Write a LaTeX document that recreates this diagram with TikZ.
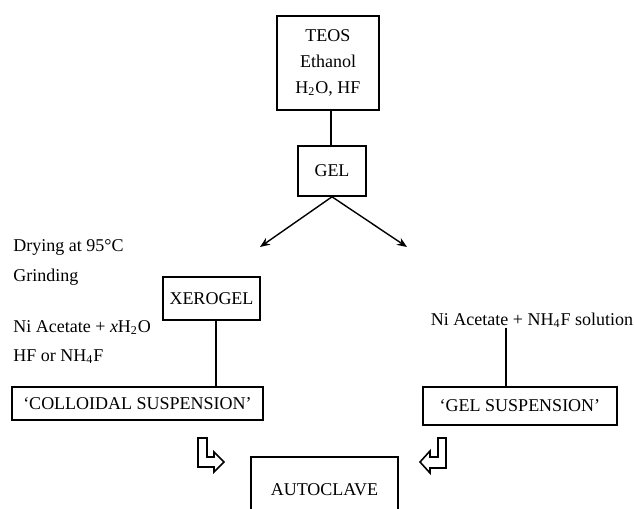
\documentclass[tikz,border=0pt]{standalone}
\usepackage{fontspec}
\setmainfont{Liberation Serif}
\usetikzlibrary{arrows.meta}
\begin{document}
\begin{tikzpicture}[x=0.5pt,y=-0.5pt,
  font=\fontsize{9}{13}\selectfont,
  box/.style={draw,line width=0.8pt,inner sep=0pt,align=center},
  txt/.style={inner sep=0pt},
  link/.style={line width=0.7pt},
  flow/.style={line width=0.7pt,-{Stealth[length=5pt,width=4pt]}},
  hollow/.style={draw,line width=0.8pt,line join=miter}]
\useasboundingbox (0,0) rectangle (634,509);

% preparation of the gel
\node[box,minimum width=51pt,minimum height=47pt] (teos) at (328,63)
  {TEOS\\Ethanol\\H\textsubscript{2}O, HF};
\node[box,minimum width=34pt,minimum height=25pt] (gel) at (332,171) {GEL};
\draw[link] ([xshift=-0.5pt]gel.north) -- ([xshift=-0.5pt]gel.north |- teos.south);

% the two routes
\coordinate (left) at (260,247);
\coordinate (right) at (407,247);
\draw[flow] (gel.south) -- (left);
\draw[flow] (gel.south) -- (right);

% xerogel route
\node[txt,anchor=west] (dry) at (13,247) {Drying at 95°C};
\node[txt,anchor=west] (grind) at (13,277) {Grinding};
\node[box,minimum width=48.5pt,minimum height=21.5pt] (xero) at (211.5,298.5) {XEROGEL};
\node[txt,anchor=west] (niac) at (13,328) {Ni Acetate + \textit{x}H\textsubscript{2}O};
\node[txt,anchor=west] (hf) at (13,357) {HF or NH\textsubscript{4}F};
\node[box,minimum width=125.5pt,minimum height=16.5pt] (colloid) at (137.5,403.5)
  {`COLLOIDAL SUSPENSION'};
\draw[link] ([xshift=2.25pt]xero.south) -- ([xshift=2.25pt]xero.south |- colloid.north);

% gel route
\node[txt] (nisol) at (532,320) {Ni Acetate + NH\textsubscript{4}F solution};
\node[box,minimum width=97pt,minimum height=19pt] (gelsus) at (520,406)
  {`GEL SUSPENSION'};
\draw[link] ([xshift=-13pt]nisol.south) -- ([xshift=-13pt]nisol.south |- gelsus.north);

% autoclave, running past the lower edge
\node[txt] (auto) at (324.5,490) {AUTOCLAVE};
\draw[line width=0.8pt] (251,520) -- (251,457) -- (398,457) -- (398,520);

% hollow bent arrows into the autoclave
\draw[hollow] (198,438) -- (207,438) -- (207,457) -- (214,457) -- (214,452)
  -- (224,462) -- (214,472) -- (214,467) -- (198,467) -- cycle;
\draw[hollow] (446,438) -- (438,438) -- (438,457) -- (430,457) -- (430,451)
  -- (420,462) -- (430,473) -- (430,468) -- (446,468) -- cycle;
\end{tikzpicture}
\end{document}
